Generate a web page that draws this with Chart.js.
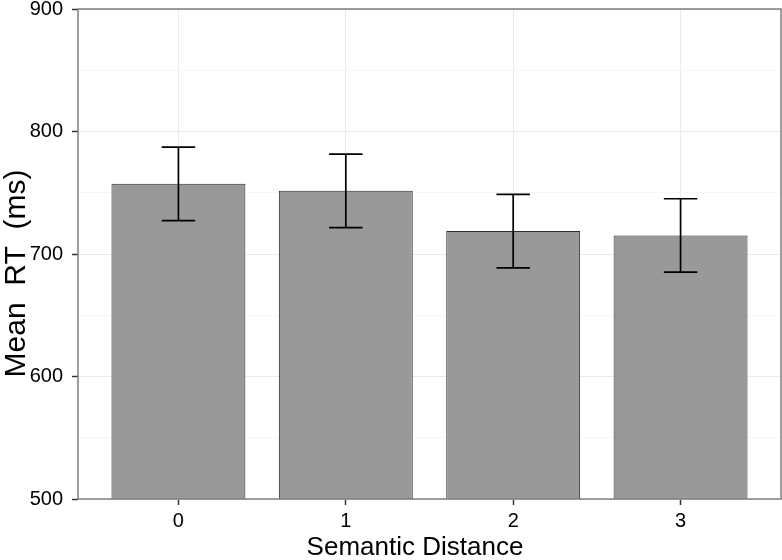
<!DOCTYPE html>
<html>
<head>
<meta charset="utf-8">
<script src="https://cdn.jsdelivr.net/npm/chart.js@4"></script>
<style>
  body { margin: 0; background: #fff; }
  #chart { display: block; }
</style>
</head>
<body>
<canvas id="chart" width="782" height="560"></canvas>
<script>
const categories = ['0', '1', '2', '3'];
const meanRT = [757.3, 751.6, 718.8, 715.1];
const errUpper = [787.3, 781.6, 748.7, 745.1];
const errLower = [727.3, 721.6, 688.7, 685.2];
const yMajorTicks = [500, 600, 700, 800, 900];
const yMinorTicks = [550, 650, 750, 850];
const xTitle = 'Semantic Distance';
const yTitle = 'Mean  RT  (ms)';

const fontFamily = "'Liberation Sans', Arial, sans-serif";
const axisFont = { family: fontFamily, size: 20 };

// error bars drawn on top of the bars
const errorBarPlugin = {
  id: 'errorBars',
  afterDatasetsDraw(chart) {
    const ctx = chart.ctx;
    const x = chart.scales.x;
    const y = chart.scales.y;
    ctx.save();
    ctx.strokeStyle = '#000';
    ctx.lineWidth = 1.7;
    categories.forEach((c, i) => {
      const cx = x.getPixelForValue(i);
      const left = x.getPixelForValue(i - 0.1);
      const right = x.getPixelForValue(i + 0.1);
      const top = y.getPixelForValue(errUpper[i]);
      const bottom = y.getPixelForValue(errLower[i]);
      ctx.beginPath();
      ctx.moveTo(cx, top); ctx.lineTo(cx, bottom);
      ctx.moveTo(left, top); ctx.lineTo(right, top);
      ctx.moveTo(left, bottom); ctx.lineTo(right, bottom);
      ctx.stroke();
    });
    ctx.restore();
  }
};

// panel border + axis titles (titles sit a bit off-centre in the original)
const panelPlugin = {
  id: 'panel',
  afterDraw(chart) {
    const { left, top, right, bottom } = chart.chartArea;
    const ctx = chart.ctx;
    ctx.save();
    ctx.strokeStyle = '#7f7f7f';
    ctx.lineWidth = 1.5;
    ctx.strokeRect(left, top, right - left, bottom - top);

    ctx.fillStyle = '#000';
    ctx.textAlign = 'center';
    ctx.textBaseline = 'alphabetic';
    ctx.font = '26px ' + fontFamily;
    ctx.fillText(xTitle, 415, 555);

    ctx.font = '30px ' + fontFamily;
    ctx.translate(25, 273.5);
    ctx.rotate(-Math.PI / 2);
    ctx.fillText(yTitle, 0, 0);
    ctx.restore();
  }
};

new Chart(document.getElementById('chart'), {
  type: 'bar',
  data: {
    datasets: [{
      data: meanRT.map((v, i) => ({ x: i, y: v })),
      backgroundColor: '#999999',
      borderColor: '#2b2b2b',
      borderWidth: 1,
      categoryPercentage: 1,
      barPercentage: 0.8
    }]
  },
  options: {
    responsive: false,
    animation: false,
    layout: { padding: { top: 9, right: 1, left: 0, bottom: 0 } },
    plugins: {
      legend: { display: false },
      tooltip: { enabled: false }
    },
    scales: {
      x: {
        type: 'linear',
        min: -0.6,
        max: 3.6,
        offset: false,
        afterBuildTicks: (scale) => {
          scale.ticks = categories.map((c, i) => ({ value: i }));
        },
        afterFit: (scale) => {
          scale.height = 61;
          scale.paddingLeft = 0;
          scale.paddingRight = 0;
        },
        ticks: {
          font: axisFont,
          color: '#000',
          padding: 4,
          maxRotation: 0,
          callback: (v) => categories[v]
        },
        grid: {
          offset: false,
          color: '#ebebeb',
          lineWidth: 1,
          tickColor: '#333',
          tickLength: 6,
          tickWidth: 1.5
        },
        border: { display: false }
      },
      y: {
        min: 500,
        max: 900,
        afterBuildTicks: (scale) => {
          scale.ticks = yMajorTicks.concat(yMinorTicks).sort((a, b) => a - b).map(v => ({ value: v }));
        },
        afterFit: (scale) => {
          scale.width = 78;
          scale.paddingTop = 0;
          scale.paddingBottom = 0;
        },
        ticks: {
          font: axisFont,
          color: '#000',
          padding: 9,
          callback: (v) => yMajorTicks.includes(v) ? String(v) : ''
        },
        grid: {
          color: (ctx) => yMajorTicks.includes(ctx.tick && ctx.tick.value) ? '#ebebeb' : '#f6f6f6',
          lineWidth: 1,
          tickColor: (ctx) => yMajorTicks.includes(ctx.tick && ctx.tick.value) ? '#333' : 'rgba(0,0,0,0)',
          tickLength: 6,
          tickWidth: 1.5
        },
        border: { display: false }
      }
    }
  },
  plugins: [errorBarPlugin, panelPlugin]
});
</script>
</body>
</html>
